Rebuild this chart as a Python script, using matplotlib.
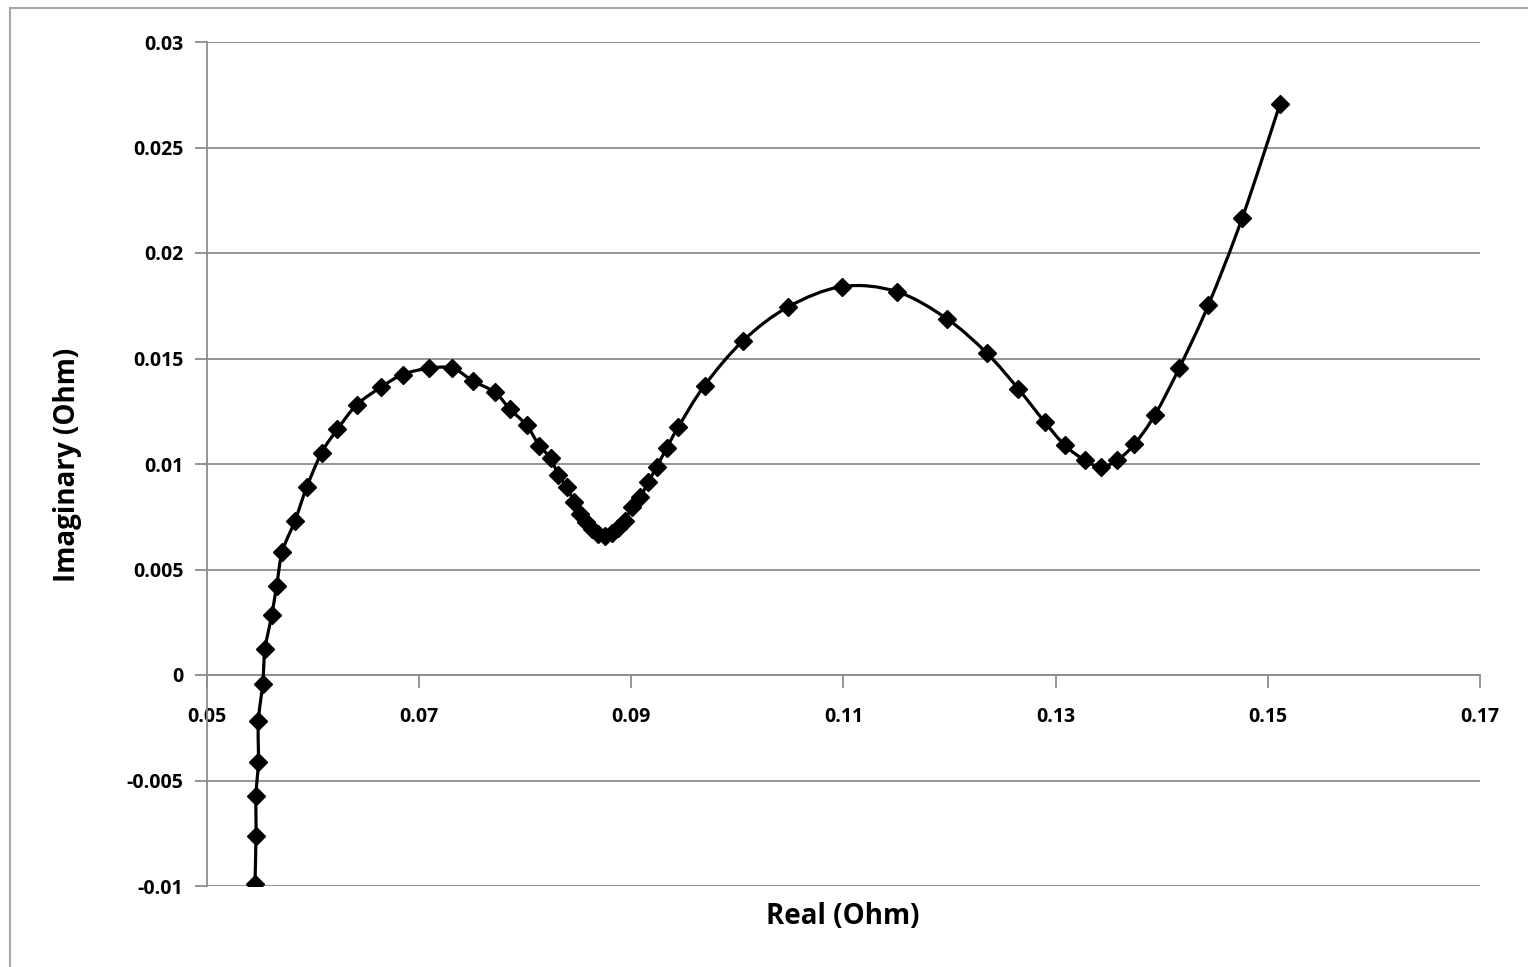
import numpy as np
import matplotlib.pyplot as plt
from matplotlib.patches import Rectangle, PathPatch
from matplotlib.path import Path

# Nyquist data
real = [0.05452, 0.05462, 0.05462, 0.05484, 0.05484, 0.05525, 0.05547, 0.0561,
        0.05657, 0.0571, 0.0583, 0.0594, 0.06081, 0.06229, 0.06411, 0.0664,
        0.06845, 0.07093, 0.07313, 0.0751, 0.07715, 0.07856, 0.08013, 0.08133,
        0.0824, 0.08312, 0.08391, 0.0846, 0.08516, 0.08573, 0.08626, 0.08689,
        0.08752, 0.08815, 0.08877, 0.0894, 0.09003, 0.09082, 0.0916, 0.09239,
        0.09333, 0.09440, 0.09690, 0.10053, 0.1048, 0.10989, 0.11501, 0.11973,
        0.1235, 0.12648, 0.129, 0.13088, 0.13277, 0.13425, 0.13576, 0.13741,
        0.13937, 0.14163, 0.14439, 0.1476, 0.15115]
imag = [-0.00992, -0.00763, -0.00573, -0.0041, -0.0022, -0.00042, 0.00122, 0.00283,
        0.00424, 0.00585, 0.00732, 0.0089, 0.01054, 0.01164, 0.0128, 0.01364,
        0.01424, 0.01454, 0.01454, 0.01393, 0.01339, 0.0126, 0.01183, 0.01087,
        0.01027, 0.00947, 0.00891, 0.00819, 0.00763, 0.00723, 0.00694, 0.0067,
        0.00659, 0.00675, 0.00699, 0.00731, 0.00795, 0.00843, 0.00915, 0.00987,
        0.01075, 0.01173, 0.01372, 0.01584, 0.01745, 0.01841, 0.01817, 0.01689,
        0.01526, 0.01356, 0.01197, 0.01088, 0.01017, 0.00986, 0.01017, 0.01093,
        0.01234, 0.01453, 0.01753, 0.02168, 0.02707]

xticks = [0.05, 0.07, 0.09, 0.11, 0.13, 0.15, 0.17]
yticks = [-0.01, -0.005, 0, 0.005, 0.01, 0.015, 0.02, 0.025, 0.03]

plt.rcParams['font.family'] = ['Open Sans', 'DejaVu Sans']

fig = plt.figure(figsize=(15.28, 9.67), dpi=100)
ax = fig.add_axes([207/1528, 1-886/967, (1480-207)/1528, (886-42)/967])

# chart border
fig.patches.append(Rectangle((10/1528, -0.01), 1.02, 1-8/967+0.01, transform=fig.transFigure,
                             fill=False, edgecolor='#a6a6a6', linewidth=1.5))

# smoothed line like Excel's "smooth line" option: bezier segments through the points
P = np.column_stack([real, imag])
ext = np.vstack([P[0], P, P[-1]])
verts = [P[0]]
codes = [Path.MOVETO]
for i in range(len(P) - 1):
    c1 = ext[i+1] + (ext[i+2] - ext[i]) / 6
    c2 = ext[i+2] - (ext[i+3] - ext[i+1]) / 6
    verts += [c1, c2, P[i+1]]
    codes += [Path.CURVE4] * 3
ax.add_patch(PathPatch(Path(verts, codes), facecolor='none', edgecolor='black',
                       linewidth=2.3, zorder=3))
ax.plot(real, imag, linestyle='none', marker='D', markersize=9,
        markerfacecolor='black', markeredgecolor='black', zorder=4)

# spines first (set_position resets the ticks)
for s in ['top', 'right']:
    ax.spines[s].set_visible(False)
ax.spines['bottom'].set_position(('data', 0))
for s in ['bottom', 'left']:
    ax.spines[s].set_color('#8c8c8c')
    ax.spines[s].set_linewidth(1.3)

ax.set_xlim(0.05, 0.17)
ax.set_ylim(-0.01, 0.03)
ax.set_xticks(xticks)
ax.set_yticks(yticks)
ax.set_xticklabels([f'{v:g}' for v in xticks], fontsize=14, fontweight='bold')
ax.set_yticklabels([f'{v:g}' for v in yticks], fontsize=14, fontweight='bold')

ax.grid(axis='y', color='#8c8c8c', linewidth=1.3)
ax.set_axisbelow(True)
ax.tick_params(axis='x', direction='out', length=9, color='#8c8c8c', width=1.3, pad=14)
ax.tick_params(axis='y', direction='out', length=9, color='#8c8c8c', width=1.3, pad=8)

fig.text(843/1528, 1-917/967, 'Real (Ohm)', ha='center', va='center', fontsize=20, fontweight='bold')
fig.text(68/1528, 1-465/967, 'Imaginary (Ohm)', ha='center', va='center', rotation=90,
         fontsize=20, fontweight='bold')

fig.savefig('out.png', dpi=100)
